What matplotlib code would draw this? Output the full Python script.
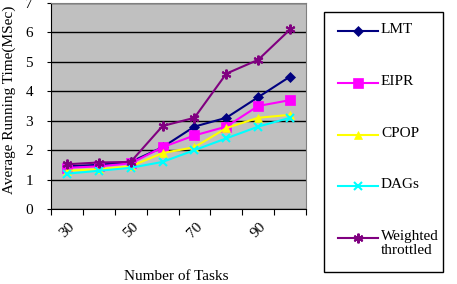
import matplotlib
matplotlib.use("Agg")
import matplotlib.pyplot as plt
from matplotlib.lines import Line2D
from matplotlib.patches import Rectangle

plt.rcParams['font.family'] = ['Liberation Serif', 'DejaVu Serif']

tasks = [30, 40, 50, 60, 70, 80, 90, 100]
tick_labels = ['30', '50', '70', '90']
series_names = ['LMT', 'EIPR', 'CPOP', 'DAGs', 'Weighted\nthrottled']
lmt = [1.45, 1.5, 1.6, 2.1, 2.8, 3.1, 3.8, 4.5]
eipr = [1.4, 1.45, 1.55, 2.1, 2.5, 2.8, 3.5, 3.7]
cpop = [1.3, 1.35, 1.45, 1.9, 2.1, 2.75, 3.1, 3.2]
dags = [1.2, 1.3, 1.4, 1.6, 2.0, 2.4, 2.8, 3.1]
weighted = [1.52, 1.58, 1.6, 2.82, 3.1, 4.6, 5.07, 6.1]
series_values = [lmt, eipr, cpop, dags, weighted]

colors = ['#000080', '#FF00FF', '#FFFF00', '#00FFFF', '#800080']
markers = ['D', 's', '^', 'x', (6, 2, 0)]
msizes = [5, 7, 6, 6, 7]
FS = 11

W, H = 457, 284
fig = plt.figure(figsize=(W / 100, H / 100), dpi=100)
ax = fig.add_axes([51 / W, 1 - 209 / H, (306 - 51) / W, (209 - 3) / H])
ax.set_facecolor('#C0C0C0')

xpos = [i + 0.5 for i in range(len(tasks))]
for vals, c, m, ms in zip(series_values, colors, markers, msizes):
    ax.plot(xpos, vals, color=c, marker=m, markersize=ms, linewidth=1.5,
            markeredgewidth=1.5 if m in ('x', (6, 2, 0)) else 0.5,
            markeredgecolor=c, zorder=3)

ax.set_xlim(0, len(tasks))
ax.set_ylim(0, 7)
ax.set_yticks(range(8))
ax.yaxis.grid(True, color='black', linewidth=1)
ax.set_axisbelow(True)

ax.set_xticks(range(len(tasks) + 1))
ax.set_xticklabels([])
label_pos = [xpos[tasks.index(int(t))] for t in tick_labels]
ax.set_xticks(label_pos, minor=True)
ax.set_xticklabels(tick_labels, minor=True, rotation=45, fontsize=FS)
ax.tick_params(axis='x', which='minor', length=0, pad=8)
ax.tick_params(axis='x', which='major', length=4, direction='out')
ax.tick_params(axis='y', length=3, direction='out', pad=10, labelsize=FS)

for s in ['top', 'right']:
    ax.spines[s].set_color('#808080')
for s in ['left', 'bottom']:
    ax.spines[s].set_color('black')

fig.text(9 / W, 1 - 100 / H, 'Average Running Time(MSec)', rotation=90,
         ha='center', va='center', fontsize=FS)
fig.text(176 / W, 1 - 277 / H, 'Number of Tasks', ha='center', va='center',
         fontsize=FS)

# legend
fig.patches.append(Rectangle((324 / W, 1 - 272 / H), (443 - 324) / W, (272 - 12) / H,
                             transform=fig.transFigure, facecolor='white',
                             edgecolor='black', linewidth=1))
entry_y = [31, 83, 135, 186, 238]
for name, c, m, ms, y in zip(series_names, colors, markers, msizes, entry_y):
    yf = 1 - y / H
    fig.add_artist(Line2D([338 / W, 378 / W], [yf, yf], transform=fig.transFigure,
                          color=c, linewidth=1.5))
    fig.add_artist(Line2D([358 / W], [yf], transform=fig.transFigure, color=c,
                          marker=m, markersize=ms, markeredgecolor=c,
                          markeredgewidth=1.5 if m in ('x', (6, 2, 0)) else 0.5))
    fig.text(381 / W, yf + 8 / H, name, ha='left', va='top', fontsize=FS,
             linespacing=1.1)

fig.savefig('out.png', dpi=100)
